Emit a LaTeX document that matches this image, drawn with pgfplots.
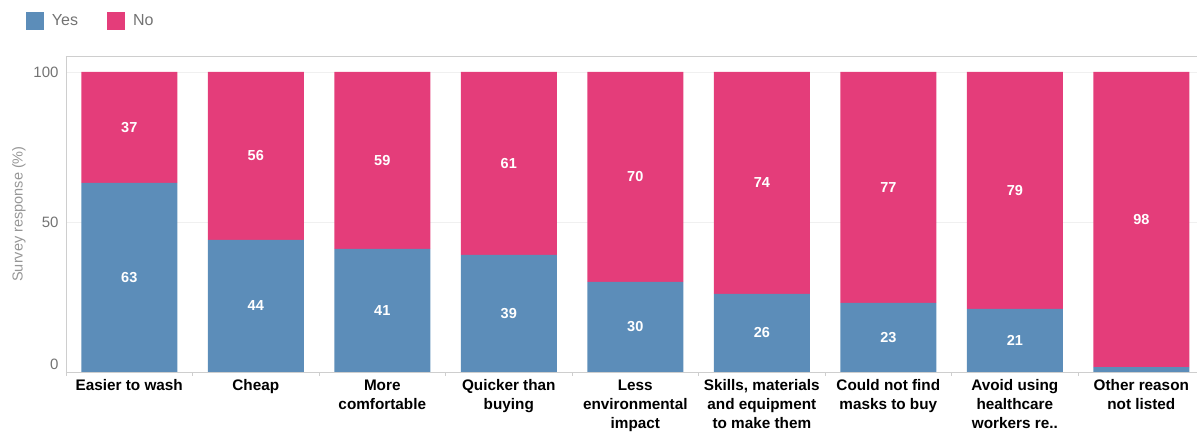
\documentclass[border=0pt]{standalone}
\usepackage{pgfplots}
\pgfplotsset{compat=1.18}
\usepackage{fontspec}
\setmainfont{Liberation Sans}
\definecolor{yesc}{RGB}{92,141,185}
\definecolor{noc}{RGB}{228,61,122}
\definecolor{axc}{RGB}{206,206,206}
\definecolor{txtc}{RGB}{115,115,115}
\definecolor{ylc}{RGB}{150,150,150}
\begin{document}
\begin{tikzpicture}
\useasboundingbox (0,0) rectangle (1197pt,433pt);
\pgfplotsset{
  common/.style={
    scale only axis, width=1131pt, height=316pt,
    at={(66pt,61pt)}, anchor=south west,
    xmin=-0.5, xmax=8.44, ymin=0, ymax=105.33,
  }
}
\begin{axis}[common,
  ybar stacked, bar width=96pt,
  axis lines=left, axis line style={-, draw=axc},
  xtick={0,...,8},
  xticklabels={Easier to wash, Cheap, More\\comfortable, Quicker than\\buying, Less\\environmental\\impact, {Skills, materials\\and equipment\\to make them}, Could not find\\masks to buy, Avoid using\\healthcare\\workers re.., Other reason\\not listed},
  major tick length=0pt,
  minor xtick={-0.5,0.5,...,8.5},
  minor tick length=4pt,
  tick align=outside,
  minor tick style={draw=axc},
  ytick={0,50,100},
  yticklabels={\raisebox{16pt}{0},50,100},
  ymajorgrids, grid style={draw=black!6},
  x tick label style={font=\bfseries\fontsize{15.3}{19}\selectfont, align=center, text=black, yshift=-4pt},
  y tick label style={font=\fontsize{15}{18}\selectfont, text=txtc, xshift=-4pt},
  /pgf/number format/assume math mode=true,
  ylabel={Survey response (\%)},
  ylabel style={at={(axis description cs:-0.0416,0.5)}, anchor=center, font=\fontsize{14.5}{17}\selectfont, text=ylc},
  legend style={at={(axis description cs:-0.0354,1.1392)}, anchor=north west, draw=none, fill=none, font=\fontsize{16}{19}\selectfont, text=txtc, legend columns=2, /tikz/every odd column/.append style={column sep=6pt}, /tikz/every even column/.append style={column sep=27pt}, inner sep=0pt, outer sep=0pt},
]
\addplot[fill=yesc, draw=none, legend image code/.code={\fill[yesc] (0pt,-9pt) rectangle (18pt,9pt);}] coordinates {(0,63) (1,44) (2,41) (3,39) (4,30) (5,26) (6,23) (7,21) (8,1.6)};
\addlegendentry{Yes}
\addplot[fill=noc, draw=none, legend image code/.code={\fill[noc] (0pt,-9pt) rectangle (18pt,9pt);}] coordinates {(0,37) (1,56) (2,59) (3,61) (4,70) (5,74) (6,77) (7,79) (8,98.4)};
\addlegendentry{No}
\draw[axc] (rel axis cs:0,1) -- (rel axis cs:1,1);
\draw[axc] (rel axis cs:0,0) -- ++(0,-61pt);
\end{axis}
\begin{axis}[common, hide axis, clip=false]
\addplot[draw=none, nodes near coords, point meta=explicit symbolic,
  every node near coord/.append style={anchor=center, text=white, font=\bfseries\fontsize{14.5}{16}\selectfont}]
  coordinates {(0,31.5)[63] (1,22)[44] (2,20.5)[41] (3,19.5)[39] (4,15)[30] (5,13)[26] (6,11.5)[23] (7,10.5)[21]};
\addplot[draw=none, nodes near coords, point meta=explicit symbolic,
  every node near coord/.append style={anchor=center, text=white, font=\bfseries\fontsize{14.5}{16}\selectfont}]
  coordinates {(0,81.5)[37] (1,72)[56] (2,70.5)[59] (3,69.5)[61] (4,65)[70] (5,63)[74] (6,61.5)[77] (7,60.5)[79] (8,50.8)[98]};
\end{axis}
\end{tikzpicture}
\end{document}
